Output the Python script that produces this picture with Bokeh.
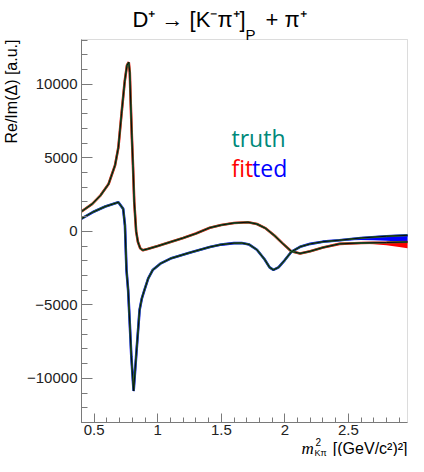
import math
from bokeh.plotting import figure
from bokeh.models import FixedTicker, Label, BoxAnnotation
from bokeh.embed import file_html
from bokeh.resources import INLINE

# ---- data ----
# curve with the positive peak (red = fitted, dark line = truth)
re_x = [0.40, 0.485, 0.55, 0.613, 0.664, 0.69, 0.715, 0.74, 0.758, 0.772, 0.78, 0.787,
        0.796, 0.805, 0.815, 0.83, 0.844, 0.862, 0.882, 0.92, 1.0, 1.1, 1.2, 1.3, 1.41,
        1.5, 1.6, 1.71, 1.78, 1.85, 1.92, 1.98, 2.05, 2.12, 2.2, 2.3, 2.43,
        2.6, 2.8, 2.965]
re_y = [1350, 1870, 2450, 3220, 4500, 5700, 8000, 10200, 11300, 11500, 10800, 8800,
        6500, 4500, 2000, 0, -720, -1150, -1280, -1200, -1000, -720, -450, -150, 250,
        430, 570, 620, 500, 200, -300, -800, -1350, -1500, -1350, -1100, -850,
        -790, -760, -720]

# curve with the negative dip (blue = fitted, dark line = truth)
im_x = [0.40, 0.487, 0.587, 0.69, 0.728, 0.742, 0.754, 0.767, 0.78, 0.792, 0.81, 0.83,
        0.857, 0.875, 0.895, 0.925, 0.96, 1.02, 1.1, 1.25, 1.41, 1.5, 1.6, 1.66, 1.72,
        1.78, 1.84, 1.88, 1.91, 1.95, 2.0, 2.05, 2.12, 2.2, 2.3, 2.43, 2.6, 2.8, 2.965]
im_y = [860, 1300, 1690, 1980, 1530, 400, -2630, -3990, -6300, -8490, -10860, -8490,
        -5340, -4550, -3990, -3200, -2630, -2200, -1850, -1450, -1060, -900, -800, -790, -900,
        -1250, -1900, -2450, -2620, -2450, -1950, -1400, -1050, -850, -700, -600, -450, -330, -270]

# fit uncertainty bands at high mass
band_x = [2.45, 2.60, 2.70, 2.80, 2.90, 2.965]
blue_lo = [-620, -580, -600, -640, -690, -720]
blue_hi = [-580, -450, -390, -330, -290, -270]
red_lo = [-870, -830, -870, -950, -1060, -1150]
red_hi = [-830, -780, -770, -760, -740, -720]

x_major = [0.5, 1.0, 1.5, 2.0, 2.5]
y_major = [-10000, -5000, 0, 5000, 10000]
y_labels = {-10000: "\u221210000", -5000: "\u22125000", 0: "0", 5000: "5000", 10000: "10000"}

# axis limits of the drawing box
X0, X1 = 0.4, 2.965
Y0, Y1 = -13000, 13050

W, H = 408, 456
# page position of the drawing box (page = canvas + 8)
BOX_L, BOX_R, BOX_T, BOX_B = 89, 415, 47, 430
kx = (BOX_R - BOX_L) / (X1 - X0)
ky = (BOX_B - BOX_T) / (Y1 - Y0)
xr = (X0 - (BOX_L - 8) / kx, X1 + (8 + W - BOX_R) / kx)
yr = (Y0 - (8 + H - BOX_B) / ky, Y1 + (BOX_T - 8) / ky)


def px2x(px):
    return X0 + (px - BOX_L) / kx


def py2y(py):
    return Y1 - (py - BOX_T) / ky


p = figure(width=W, height=H, output_backend="svg", toolbar_location=None,
           x_range=xr, y_range=yr, min_border=0,
           min_border_left=0, min_border_right=0, min_border_top=0, min_border_bottom=0)
p.background_fill_color = "white"
p.border_fill_color = "white"
p.grid.visible = False
p.outline_line_color = None

for ax in (p.xaxis[0], p.yaxis[0]):
    ax.axis_line_color = "#7a7a7a"
    ax.major_tick_line_color = "#7a7a7a"
    ax.minor_tick_line_color = "#7a7a7a"
    ax.major_tick_out = 0
    ax.minor_tick_out = 0
    ax.major_label_text_font = "Liberation Sans"
    ax.major_label_text_font_size = "15px"
    ax.major_label_text_color = "#222222"

p.xaxis.fixed_location = Y0
p.xaxis.bounds = (X0, X1)
p.xaxis.ticker = FixedTicker(ticks=x_major, minor_ticks=[round(0.4 + 0.1 * i, 2) for i in range(26)])
p.xaxis.major_tick_in = 9
p.xaxis.minor_tick_in = 5
p.xaxis.major_label_standoff = 2
p.xaxis.major_label_overrides = {0.5: "0.5", 1.0: "1", 1.5: "1.5", 2.0: "2", 2.5: "2.5"}

p.yaxis.fixed_location = X0
p.yaxis.bounds = (Y0, Y1)
p.yaxis.ticker = FixedTicker(ticks=y_major, minor_ticks=list(range(-13000, 13001, 1000)))
p.yaxis.major_tick_in = 11
p.yaxis.minor_tick_in = 6
p.yaxis.major_label_standoff = 4
p.yaxis.major_label_overrides = y_labels

# box around the plotting area
p.add_layout(BoxAnnotation(left=X0, right=X1, bottom=Y0, top=Y1, fill_alpha=0,
                           line_color="#8a8a8a", line_width=1, level="underlay"))

# fitted bands and lines
p.varea(x=band_x, y1=blue_lo, y2=blue_hi, fill_color="#0000ff")
p.varea(x=band_x, y1=red_lo, y2=red_hi, fill_color="#ff0000")
p.line(re_x, re_y, line_color="#ff0000", line_width=2.6)
p.line(im_x, im_y, line_color="#0000ff", line_width=2.6)
# truth lines
for xs, ys in ((re_x, re_y), (im_x, im_y)):
    p.line(xs, ys, line_color="#2f7d3c", line_width=2.0)
    p.line(xs, ys, line_color="#0a0a0a", line_width=1.0)


def lab(px, py, text, size, color="black", font="Liberation Sans", align="left",
        baseline="alphabetic", angle=0.0, style="normal"):
    p.add_layout(Label(x=px2x(px), y=py2y(py), text=text,
                       text_font=font, text_font_size=size, text_color=color,
                       text_align=align, text_baseline=baseline, angle=angle,
                       text_font_style=style))


# title
lab(140, 27, "D\u207a \u2192 [K\u207b\u03c0\u207a]", "22px")
lab(253, 42, "P", "15px")
lab(273, 27, "+ \u03c0\u207a", "22px")

# y axis title
lab(19, 47, "Re/Im(\u0394) [a.u.]", "16px", align="right", baseline="middle", angle=math.pi / 2)

# x axis title
lab(415, 456, "[(GeV/c\u00b2)\u00b2]", "16px", align="right")
lab(309, 456, "m", "17px", font="Liberation Serif", style="italic")
lab(323, 449, "2", "10px")
lab(322, 460, "K\u03c0", "9px")

# legend texts
lab(239, 145, "truth", "23px", color="#00897a", font="Open Sans")
lab(239, 175, "fit", "23px", color="#ff0000", font="Open Sans")
lab(259.6, 175, "ted", "23px", color="#0000ff", font="Open Sans")

open("out.html", "w").write(file_html(p, INLINE))
